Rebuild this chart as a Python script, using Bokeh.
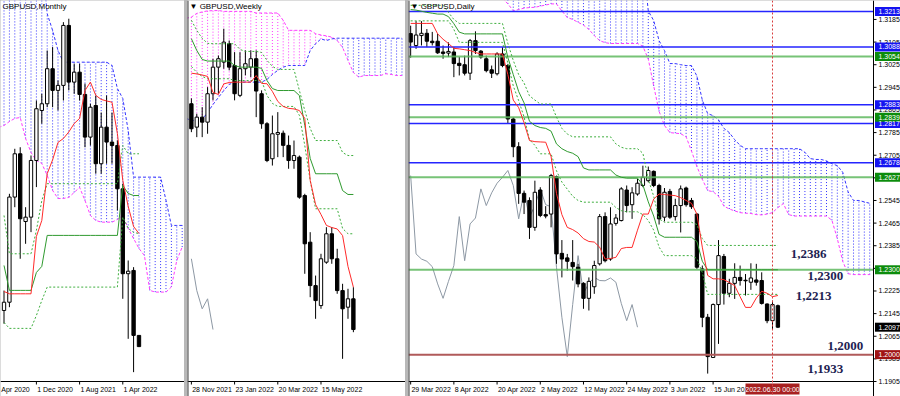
from bokeh.plotting import figure
from bokeh.layouts import row
from bokeh.models import Label, Range1d, Span
from bokeh.core.properties import value
from bokeh.embed import file_html
from bokeh.resources import INLINE

FONT = "Liberation Sans"

# ---------------- MONTHLY (index 0 = Apr 2022) ----------------
m_idx = list(range(-22, 4))
m_open = [1.2329, 1.2382, 1.3057, 1.3335, 1.2900, 1.2928, 1.3292, 1.3613, 1.3656, 1.3881, 1.3742, 1.3774, 1.4159,
          1.3795, 1.3859, 1.3716, 1.3442, 1.3645, 1.3271, 1.3506, 1.3410, 1.3388, 1.3110, 1.2565, 1.2586, 1.2169]
m_high = [1.2457, 1.3078, 1.3367, 1.3377, 1.2992, 1.3324, 1.3677, 1.3720, 1.3998, 1.4020, 1.3806, 1.4180, 1.4202,
          1.3913, 1.3913, 1.3785, 1.3656, 1.3709, 1.3600, 1.3709, 1.3600, 1.3421, 1.3143, 1.2650, 1.2607, 1.2169]
m_low = [1.2244, 1.2350, 1.2992, 1.2661, 1.2757, 1.2832, 1.3121, 1.3528, 1.3634, 1.3634, 1.3613, 1.3677, 1.3742,
         1.3720, 1.3677, 1.3377, 1.3388, 1.3207, 1.3207, 1.3271, 1.3271, 1.2971, 1.2404, 1.2147, 1.1933, 1.2094]
m_close = [1.2382, 1.3057, 1.3335, 1.2918, 1.2928, 1.3292, 1.3624, 1.3656, 1.3881, 1.3742, 1.3774, 1.4159, 1.3795,
           1.3859, 1.3716, 1.3442, 1.3634, 1.3271, 1.3506, 1.3410, 1.3388, 1.3110, 1.2565, 1.2581, 1.2169, 1.2097]
m_tenkan = [1.2451, 1.2436, 1.2436, 1.2436, 1.2436, 1.2436, 1.2804, 1.2907, 1.3207, 1.3296, 1.3408, 1.3433, 1.3475,
            1.3529, 1.3562, 1.3741, 1.3795, 1.3710, 1.3684, 1.3674, 1.3666, 1.3465, 1.3164, 1.2997, 1.2868, 1.2823]
m_kijun = [1.2618, 1.2458, 1.2458, 1.2458, 1.2458, 1.2458, 1.2573, 1.2612] + [1.2811] * 14 + [1.3132, 1.3080, 1.3067, 1.3067]
m_dot_up = [1.2939] + [1.2693] * 5 + [1.2843, 1.3035] + [1.3143] * 14 + [1.3388, 1.3335, 1.3335, 1.3335]
m_dot_dn = [1.2252] + [1.2214] * 5 + [1.2297, 1.2393] + [1.2479] * 14 + [1.2928, 1.2856, 1.2830, 1.2823]
m_cloud_idx = list(range(-23, 12))
m_span_b = [1.4600] * 9 + [1.4234, 1.4127, 1.3998] + [1.3923] * 9 + [1.3902, 1.3754, 1.3690, 1.3485] + [1.3185] * 6 + [1.3037] + [1.2875] * 3
m_span_a = [1.3504, 1.3517, 1.3542, 1.3562, 1.3568, 1.3433, 1.3343, 1.3292, 1.3273, 1.3196, 1.3100, 1.3048, 1.3048,
            1.3055, 1.3087, 1.3119, 1.3035, 1.2939, 1.2907, 1.2896, 1.2896, 1.2896, 1.2913, 1.2939, 1.2856, 1.2791,
            1.2727, 1.2682, 1.2458, 1.2447, 1.2447, 1.2447, 1.2480, 1.2650, 1.2736]
m_date_labels = ["Apr 2020", "1 Dec 2020", "1 Aug 2021", "1 Apr 2022"]
m_date_idx = [-24, -16, -8, 0]
m_label_idx = [-22.5, -15.85, -7.85, 0.15]

# ---------------- WEEKLY (index 0 = 28 Nov 2021) ----------------
w_idx = list(range(0, 31))
w_open = [1.3361, 1.3230, 1.3286, 1.3258, 1.3417, 1.3566, 1.3594, 1.3697, 1.3575, 1.3408, 1.3557, 1.3566, 1.3613,
          1.3417, 1.3249, 1.3053, 1.3190, 1.3196, 1.3128, 1.3043, 1.3062, 1.2847, 1.2586, 1.2343, 1.2231, 1.2474,
          1.2633, 1.2493, 1.2315, 1.2222, 1.2269]
w_high = [1.3391, 1.3305, 1.3342, 1.3454, 1.3613, 1.3631, 1.3781, 1.3715, 1.3650, 1.3650, 1.3660, 1.3660, 1.3660,
          1.3436, 1.3258, 1.3295, 1.3314, 1.3211, 1.3183, 1.3155, 1.3071, 1.2857, 1.2642, 1.2399, 1.2521, 1.2670,
          1.2670, 1.2549, 1.2353, 1.2325, 1.2334]
w_low = [1.3202, 1.3174, 1.3174, 1.3193, 1.3380, 1.3417, 1.3557, 1.3548, 1.3380, 1.3398, 1.3520, 1.3510, 1.3286,
         1.3221, 1.3034, 1.3015, 1.3062, 1.3062, 1.2997, 1.2997, 1.2829, 1.2409, 1.2278, 1.2157, 1.2213, 1.2465,
         1.2465, 1.2297, 1.1933, 1.2157, 1.2082]
w_close = [1.3221, 1.3286, 1.3258, 1.3417, 1.3566, 1.3613, 1.3706, 1.3566, 1.3417, 1.3557, 1.3585, 1.3613, 1.3432,
           1.3249, 1.3043, 1.3193, 1.3200, 1.3128, 1.3043, 1.3071, 1.2838, 1.2577, 1.2343, 1.2259, 1.2493, 1.2633,
           1.2493, 1.2315, 1.2213, 1.2269, 1.2097]
w_tenkan = [1.3532, 1.3528, 1.3522, 1.3514, 1.3424, 1.3413, 1.3472, 1.3480, 1.3482, 1.3482, 1.3482, 1.3482, 1.3519,
            1.3475, 1.3473, 1.3430, 1.3374, 1.3346, 1.3335, 1.3332, 1.3323, 1.3279, 1.2932, 1.2797, 1.2741, 1.2680,
            1.2668, 1.2660, 1.2623, 1.2450, 1.2334]
w_kijun = [1.3725, 1.3659, 1.3609, 1.3600, 1.3600, 1.3600, 1.3600, 1.3600, 1.3575, 1.3566, 1.3566, 1.3566, 1.3566,
           1.3559, 1.3491, 1.3446, 1.3435, 1.3435, 1.3435, 1.3435, 1.3407, 1.3240, 1.3055, 1.2969, 1.2969, 1.2969,
           1.2969, 1.2969, 1.2875, 1.2853, 1.2853]
w_dot_up = [1.3828, 1.3772, 1.3727, 1.3699, 1.3697, 1.3697, 1.3697, 1.3697, 1.3697, 1.3665, 1.3654, 1.3654, 1.3654,
            1.3648, 1.3604, 1.3570, 1.3553, 1.3553, 1.3553, 1.3553, 1.3435, 1.3323, 1.3223, 1.3155, 1.3155, 1.3155,
            1.3155, 1.3155, 1.3088, 1.3071, 1.3071]
w_dot_dn = [1.3570, 1.3536, 1.3514, 1.3501, 1.3501, 1.3501, 1.3501, 1.3501, 1.3491, 1.3491, 1.3491, 1.3491, 1.3491,
            1.3491, 1.3407, 1.3363, 1.3346, 1.3346, 1.3346, 1.3346, 1.3296, 1.3127, 1.2932, 1.2773, 1.2773, 1.2773,
            1.2773, 1.2773, 1.2663, 1.2633, 1.2633]
w_cloud_idx = list(range(-1, 40))
w_span_a = [1.3839, 1.3846, 1.3867, 1.3875, 1.3881, 1.3882, 1.3883] + [1.3878] * 6 + [1.3869] * 5 + [1.3828] + \
           [1.3772] * 5 + [1.3753, 1.3746, 1.3741, 1.3734, 1.3715, 1.3676, 1.3604, 1.3536, 1.3510] + [1.3519] * 4 + \
           [1.3529, 1.3525, 1.3519, 1.3519]
w_span_b = [1.3279, 1.3268, 1.3268, 1.3273, 1.3312, 1.3357, 1.3396, 1.3435, 1.3469] + [1.3482] * 6 + \
           [1.3497, 1.3525, 1.3548, 1.3566] + [1.3575] * 4 + [1.3659, 1.3697, 1.3724, 1.3715, 1.3724] + [1.3728] * 13
w_date_labels = ["28 Nov 2021", "23 Jan 2022", "20 Mar 2022", "15 May 2022"]
w_date_idx = [0, 8, 16, 24]
w_label_idx = [0.15, 8.15, 16.15, 24.15]

# ---------------- DAILY (index 0 = 29 Mar 2022) ----------------
d_idx = list(range(0, 69))
d_open = [1.3135, 1.3093, 1.3128, 1.3136, 1.3108, 1.3108, 1.3070, 1.3066, 1.3070, 1.3030, 1.3025, 1.2995, 1.3110,
          1.3073, 1.3046, 1.3007, 1.2993, 1.3063, 1.3022, 1.2833, 1.2735, 1.2570, 1.2545, 1.2450, 1.2582, 1.2495,
          1.2497, 1.2629, 1.2358, 1.2342, 1.2326, 1.2309, 1.2252, 1.2199, 1.2240, 1.2321, 1.2488, 1.2338, 1.2464,
          1.2474, 1.2582, 1.2530, 1.2568, 1.2598, 1.2615, 1.2648, 1.2598, 1.2486, 1.2577, 1.2488, 1.2527, 1.2589,
          1.2545, 1.2497, 1.2303, 1.2132, 1.1990, 1.2177, 1.2347, 1.2217, 1.2252, 1.2273, 1.2263, 1.2256, 1.2264,
          1.2262, 1.2179, 1.2120, 1.2173]
d_high = [1.3163, 1.3179, 1.3179, 1.3151, 1.3141, 1.3134, 1.3093, 1.3104, 1.3087, 1.3052, 1.3057, 1.3116, 1.3143,
          1.3077, 1.3057, 1.3022, 1.3069, 1.3087, 1.3028, 1.2839, 1.2751, 1.2580, 1.2556, 1.2615, 1.2592, 1.2525,
          1.2639, 1.2633, 1.2405, 1.2356, 1.2405, 1.2321, 1.2256, 1.2273, 1.2332, 1.2497, 1.2503, 1.2521, 1.2497,
          1.2592, 1.2598, 1.2592, 1.2621, 1.2668, 1.2665, 1.2651, 1.2604, 1.2589, 1.2586, 1.2551, 1.2598, 1.2594,
          1.2554, 1.2500, 1.2315, 1.2144, 1.2181, 1.2405, 1.2356, 1.2268, 1.2323, 1.2315, 1.2285, 1.2323, 1.2321,
          1.2291, 1.2181, 1.2191, 1.2177]
d_low = [1.3050, 1.3081, 1.3093, 1.3087, 1.3093, 1.3063, 1.3046, 1.3052, 1.2981, 1.2987, 1.2987, 1.2971, 1.3063,
         1.3046, 1.2998, 1.2978, 1.2987, 1.3016, 1.2816, 1.2698, 1.2533, 1.2497, 1.2409, 1.2438, 1.2486, 1.2482,
         1.2450, 1.2321, 1.2273, 1.2297, 1.2262, 1.2238, 1.2162, 1.2156, 1.2215, 1.2315, 1.2326, 1.2332, 1.2456,
         1.2471, 1.2503, 1.2480, 1.2562, 1.2592, 1.2609, 1.2592, 1.2460, 1.2471, 1.2480, 1.2474, 1.2432, 1.2523,
         1.2515, 1.2303, 1.2097, 1.1933, 1.1988, 1.2038, 1.2177, 1.2203, 1.2197, 1.2244, 1.2209, 1.2229, 1.2244,
         1.2177, 1.2111, 1.2087, 1.2094]
d_close = [1.3105, 1.3130, 1.3136, 1.3108, 1.3103, 1.3067, 1.3065, 1.3072, 1.3029, 1.3022, 1.2995, 1.3110, 1.3075,
           1.3052, 1.3004, 1.2995, 1.3063, 1.3022, 1.2833, 1.2735, 1.2570, 1.2539, 1.2450, 1.2574, 1.2492, 1.2490,
           1.2633, 1.2356, 1.2338, 1.2330, 1.2311, 1.2250, 1.2199, 1.2259, 1.2315, 1.2488, 1.2332, 1.2462, 1.2483,
           1.2586, 1.2527, 1.2572, 1.2606, 1.2627, 1.2651, 1.2598, 1.2480, 1.2574, 1.2486, 1.2527, 1.2586, 1.2530,
           1.2523, 1.2309, 1.2132, 1.1993, 1.2177, 1.2350, 1.2217, 1.2252, 1.2273, 1.2262, 1.2261, 1.2271, 1.2256,
           1.2181, 1.2120, 1.2177, 1.2097]
d_tenkan = [1.3171, 1.3171, 1.3171, 1.3171, 1.3171, 1.3134, 1.3115, 1.3100, 1.3083, 1.3081, 1.3078, 1.3075, 1.3068,
            1.3063, 1.3063, 1.3063, 1.3063, 1.3063, 1.2990, 1.2900, 1.2873, 1.2820, 1.2757, 1.2753, 1.2752, 1.2751,
            1.2700, 1.2570, 1.2495, 1.2450, 1.2442, 1.2430, 1.2410, 1.2400, 1.2398, 1.2380, 1.2338, 1.2340, 1.2344,
            1.2375, 1.2379, 1.2379, 1.2440, 1.2497, 1.2497, 1.2550, 1.2568, 1.2566, 1.2564, 1.2562, 1.2555, 1.2545,
            1.2535, 1.2497, 1.2380, 1.2280, 1.2268, 1.2268, 1.2265, 1.2255, 1.2244, 1.2205, 1.2167, 1.2167, 1.2200,
            1.2224, 1.2217, 1.2205, 1.2209]
d_kijun = [1.3220, 1.3218, 1.3214, 1.3210, 1.3207, 1.3204, 1.3204, 1.3195, 1.3170, 1.3140] + [1.3134] * 8 + \
          [1.3050, 1.2990, 1.2930, 1.2890, 1.2825, 1.2810, 1.2803, 1.2800, 1.2790, 1.2745, 1.2728, 1.2718, 1.2712,
           1.2700, 1.2660] + [1.2653] * 5 + [1.2635, 1.2627] + [1.2624] * 3 + [1.2600, 1.2540, 1.2490, 1.2425] + \
          [1.2415] * 6 + [1.2400, 1.2330] + [1.2300] * 14
d_dot_up = [1.3235] * 7 + [1.3210, 1.3185] + [1.3171] * 9 + [1.3100, 1.3040, 1.2990, 1.2960, 1.2915, 1.2900] + \
           [1.2886] * 3 + [1.2840, 1.2800, 1.2780] + [1.2770] * 8 + [1.2745, 1.2733] + [1.2728] * 3 + \
           [1.2712, 1.2620, 1.2560, 1.2480] + [1.2468] * 6 + [1.2460, 1.2410] + [1.2386] * 14
d_dot_dn = [1.3180] * 8 + [1.3150] + [1.3104] * 9 + [1.3030, 1.2950, 1.2898, 1.2840, 1.2760, 1.2740] + \
           [1.2710] * 3 + [1.2650, 1.2610, 1.2585, 1.2560, 1.2545] + [1.2539] * 6 + [1.2520, 1.2509] + \
           [1.2505] * 3 + [1.2495, 1.2474, 1.2440, 1.2380] + [1.2350] * 6 + [1.2340, 1.2290] + [1.2213] * 14
d_cloud_idx = list(range(17, 86))
d_span_b = [1.3400] * 27 + [1.3215, 1.3181, 1.3110, 1.3075, 1.3029, 1.3029, 1.3025, 1.3022, 1.3022, 1.2985, 1.2900,
                            1.2852, 1.2845, 1.2830, 1.2800, 1.2785, 1.2760, 1.2740] + [1.2728] * 11 + \
           [1.2715, 1.2693, 1.2690, 1.2690, 1.2685, 1.2675, 1.2668, 1.2645, 1.2575, 1.2545, 1.2545, 1.2540, 1.2535]
d_span_a = [1.3260, 1.3240, 1.3216, 1.3220, 1.3225, 1.3227, 1.3228, 1.3232, 1.3236, 1.3240, 1.3240, 1.3215, 1.3192,
            1.3185, 1.3175, 1.3165, 1.3150, 1.3128, 1.3110, 1.3103] + [1.3100] * 6 + \
           [1.3090, 1.3045, 1.2950, 1.2860, 1.2810, 1.2785, 1.2783, 1.2781, 1.2770, 1.2720, 1.2665, 1.2620, 1.2580,
            1.2576, 1.2560, 1.2525, 1.2515, 1.2508, 1.2502, 1.2500, 1.2499, 1.2495, 1.2494, 1.2497, 1.2502, 1.2520,
            1.2534, 1.2495] + [1.2490] * 7 + [1.2475, 1.2410, 1.2330, 1.2286] + [1.2283] * 4
d_date_labels = ["29 Mar 2022", "8 Apr 2022", "20 Apr 2022", "2 May 2022", "12 May 2022", "24 May 2022",
                 "3 Jun 2022", "15 Jun 2022"]
d_date_idx = [0, 8, 16, 24, 32, 40, 48, 56]
d_label_idx = [0.15, 8.15, 16.15, 24.15, 32.15, 40.15, 48.15, 56.15]
d_price_ticks = [1.1905, 1.1985, 1.2065, 1.2145, 1.2225, 1.2305, 1.2385, 1.2465, 1.2545, 1.2625, 1.2705,
                 1.2785, 1.2865, 1.2945, 1.3025, 1.3105, 1.3185]
d_blue_levels = [1.3213, 1.3088, 1.2883, 1.2817, 1.2678]
d_green_levels = [1.3054, 1.2839, 1.2627, 1.2300]
d_red_levels = [1.2000]
d_current = 1.2097
d_cross_idx = 67
d_cross_label = "2022.06.30 00:00"
d_note_text = ["1,2386", "1,2300", "1,2213", "1,2000", "1,1933"]
d_note_x = [70.4, 73.5, 71.3, 77.2, 73.5]
d_note_y = [1.2357, 1.2279, 1.2209, 1.2032, 1.1950]

C_RED = "#ff2a2a"
C_KIJUN = "#2f9a2f"
C_DOT = "#3dae3d"
C_CHIKOU = "#8d98a4"
C_BLUE = "#3434ff"
C_MAG = "#ff3cff"
H = 396
AXIS_H = 15
PLOT_H = H - AXIS_H


def make_panel(width, plot_w, x0, x1, y0, y1):
    """Frame covers the whole figure; the chart area is x0..x1 / y0..y1, the rest holds the scales."""
    ux = (x1 - x0) / plot_w
    uy = (y1 - y0) / PLOT_H
    p = figure(width=width, height=H, x_range=Range1d(x0, x0 + width * ux), y_range=Range1d(y0 - AXIS_H * uy, y1),
               output_backend="svg", toolbar_location=None, x_axis_location=None, y_axis_location=None,
               min_border_left=0, min_border_right=0, min_border_top=0, min_border_bottom=0)
    p.xgrid.visible = False
    p.ygrid.visible = False
    p.outline_line_color = None
    p.background_fill_color = "white"
    p.border_fill_color = "white"
    return p, ux, uy


def time_scale(p, x0, x1, y0, uy, date_idx, label_idx, labels):
    p.segment(x0=[x0], y0=[y0], x1=[x1], y1=[y0], line_color="black", line_width=1)
    n = len(date_idx)
    p.segment(x0=date_idx, y0=[y0] * n, x1=date_idx, y1=[y0 - 3 * uy] * n, line_color="black")
    p.text(x=label_idx, y=[y0 - 7.5 * uy] * len(labels), text=labels, text_font=value(FONT),
           text_font_size="7px", text_color="black", text_baseline="middle", text_align="left")


def cloud(p, idx, a, b):
    hatch = [C_MAG if ai > bi else C_BLUE for ai, bi in zip(a, b)]
    p.segment(x0=idx, y0=a, x1=idx, y1=b, line_color=hatch, line_dash="1 2", line_width=1)
    p.line(idx, a, line_color=C_MAG, line_dash="3 2", line_width=1)
    p.line(idx, b, line_color=C_BLUE, line_dash="3 2", line_width=1)


def candles(p, idx, o, h, l, c):
    p.segment(x0=idx, y0=h, x1=idx, y1=l, line_color="black", line_width=1)
    top = [max(a, b) for a, b in zip(o, c)]
    bot = [min(a, b) for a, b in zip(o, c)]
    fill = ["white" if ci >= oi else "black" for oi, ci in zip(o, c)]
    p.vbar(x=idx, top=top, bottom=bot, width=0.62, fill_color=fill, line_color="black", line_width=1)


def ichimoku_lines(p, idx, tenkan, kijun, up, dn):
    p.line(idx, up, line_color=C_DOT, line_dash="2 2", line_width=1)
    p.line(idx, dn, line_color=C_DOT, line_dash="2 2", line_width=1)
    p.line(idx, kijun, line_color=C_KIJUN, line_width=1)
    p.line(idx, tenkan, line_color=C_RED, line_width=1)


def title(p, text, x, y):
    p.add_layout(Label(x=x, y=y, text=text, text_font=FONT, text_font_size="8px", text_color="black",
                       text_baseline="top", text_align="left", x_offset=2, y_offset=-1))


# ---------- monthly ----------
m_x0, m_x1, m_y0, m_y1 = -22.65, 11.43, 1.1873, 1.4319
pm, m_ux, m_uy = make_panel(184, 184, m_x0, m_x1, m_y0, m_y1)
cloud(pm, m_cloud_idx, m_span_a, m_span_b)
candles(pm, m_idx, m_open, m_high, m_low, m_close)
ichimoku_lines(pm, m_idx, m_tenkan, m_kijun, m_dot_up, m_dot_dn)
time_scale(pm, m_x0, m_x1, m_y0, m_uy, m_date_idx, m_label_idx, m_date_labels)
title(pm, "GBPUSD,Monthly", m_x0, m_y1)

# ---------- weekly ----------
w_x0, w_x1, w_y0, w_y1 = -0.72, 39.65, 1.1806, 1.3939
pw, w_ux, w_uy = make_panel(218, 218, w_x0, w_x1, w_y0, w_y1)
cloud(pw, w_cloud_idx, w_span_a, w_span_b)
w_ch_x = [k - 26 for k in w_idx[26:]]
pw.line(w_ch_x, w_close[26:], line_color=C_CHIKOU, line_width=1)
candles(pw, w_idx, w_open, w_high, w_low, w_close)
ichimoku_lines(pw, w_idx, w_tenkan, w_kijun, w_dot_up, w_dot_dn)
time_scale(pw, w_x0, w_x1, w_y0, w_uy, w_date_idx, w_label_idx, w_date_labels)
pw.add_layout(Span(location=w_x0, dimension="height", line_color="#404040", line_width=2))
title(pw, "\u25bc GBPUSD,Weekly", w_x0, w_y1)

# ---------- daily ----------
DW = 492
d_x0, d_x1, d_y0, d_y1 = -0.4, 85.7, 1.1905, 1.3252
pd, ux, uy = make_panel(DW, 465, d_x0, d_x1, d_y0, d_y1)
cloud(pd, d_cloud_idx, d_span_a, d_span_b)
d_ch_x = [i - 26 for i in d_idx[26:]]
pd.line(d_ch_x, d_close[26:], line_color=C_CHIKOU, line_width=1)
pd.add_layout(Span(location=d_cross_idx, dimension="height", line_color="#d83c3c", line_dash="2 2", line_width=1))
candles(pd, d_idx, d_open, d_high, d_low, d_close)


def levels(vals, color, width, alpha=1.0):
    pd.segment(x0=[d_x0] * len(vals), y0=vals, x1=[d_x1] * len(vals), y1=vals,
               line_color=color, line_width=width, line_alpha=alpha)


levels(d_green_levels, "#5fb85f", 2, 0.85)
levels(d_blue_levels, "#2525ff", 1.5)
levels(d_red_levels, "#b05a5a", 2)
ichimoku_lines(pd, d_idx, d_tenkan, d_kijun, d_dot_up, d_dot_dn)
pd.text(x=d_note_x, y=d_note_y, text=d_note_text, text_font=value("Liberation Serif"), text_font_style="bold",
        text_font_size="13px", text_color="#1e1e52", text_baseline="middle", text_align="left")

pd.add_layout(Span(location=d_x0, dimension="height", line_color="#404040", line_width=2))
pd.add_layout(Span(location=d_x1, dimension="height", line_color="black", line_width=1))

# price scale (right)
n_t = len(d_price_ticks)
pd.segment(x0=[d_x1] * n_t, y0=d_price_ticks, x1=[d_x1 + 3 * ux] * n_t, y1=d_price_ticks, line_color="black")
pd.text(x=[d_x1 + 5 * ux] * n_t, y=d_price_ticks, text=[f"{v:.4f}" for v in d_price_ticks],
        text_font=value(FONT), text_font_size="7px", text_color="black", text_baseline="middle", text_align="left")
box_vals = d_blue_levels + d_green_levels + [d_current] + d_red_levels
box_cols = ["#1414f0"] * len(d_blue_levels) + ["#0c8c0c"] * len(d_green_levels) + ["#000000"] + \
           ["#a01414"] * len(d_red_levels)
box_left = d_x1 + 1.5 * ux
box_right = d_x0 + DW * ux
pd.rect(x=[(box_left + box_right) / 2] * len(box_vals), y=box_vals, width=box_right - box_left, height=9,
        height_units="screen", fill_color=box_cols, line_color=None)
pd.text(x=[d_x1 + 5 * ux] * len(box_vals), y=box_vals, text=[f"{v:.4f}" for v in box_vals],
        text_font=value(FONT), text_font_size="7px", text_color="white", text_baseline="middle", text_align="left")

# time scale (bottom)
time_scale(pd, d_x0, d_x1, d_y0, uy, d_date_idx, d_label_idx, d_date_labels)
lab_y = d_y0 - 7.5 * uy
pd.rect(x=[d_cross_idx], y=[lab_y], width=[54 * ux], height=[11], height_units="screen",
        fill_color="#a82020", line_color=None)
pd.text(x=[d_cross_idx], y=[lab_y], text=[d_cross_label], text_font=value(FONT), text_font_size="7px",
        text_color="white", text_baseline="middle", text_align="center")
title(pd, "\u25bc GBPUSD,Daily", d_x0, d_y1)

layout = row(pm, pw, pd, spacing=3)
layout.styles = {"background-color": "#b8b8b8"}

open("out.html", "w").write(file_html(layout, INLINE))
